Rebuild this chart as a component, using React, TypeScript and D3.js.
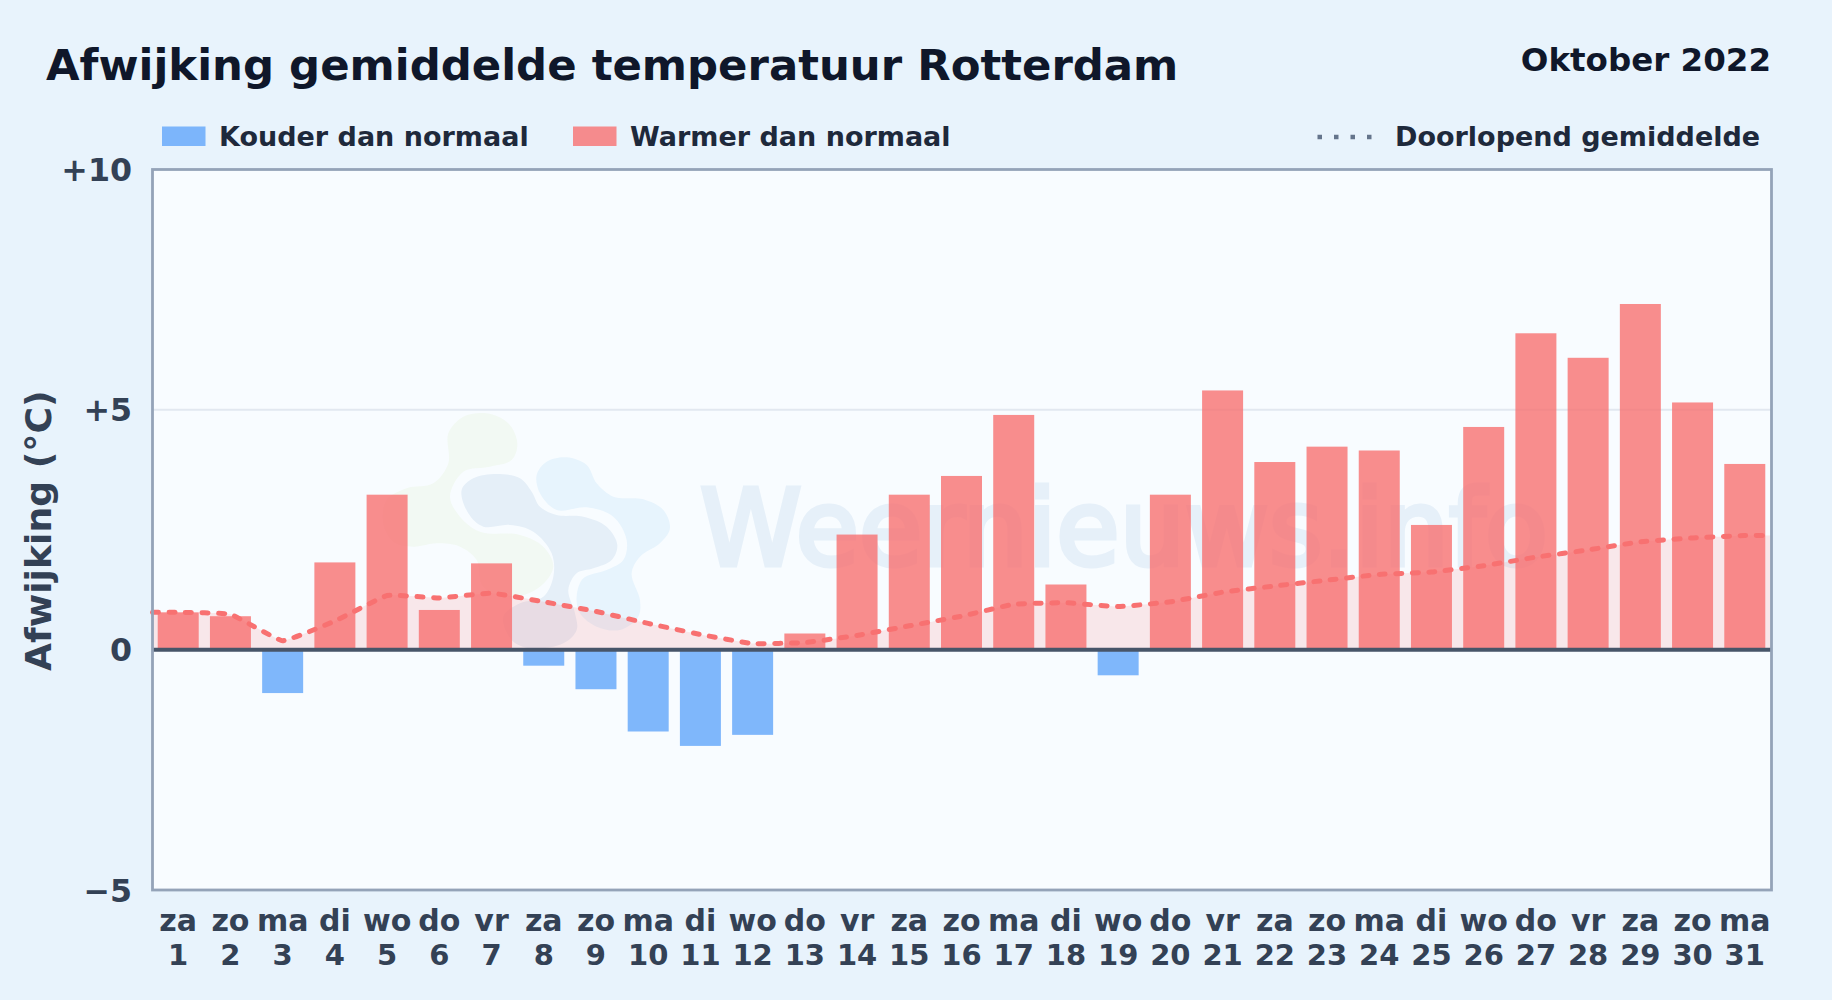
import * as d3 from 'd3'
import { useEffect, useRef } from 'react'

const WIDTH = 1832
const HEIGHT = 1000

const days = [1, 2, 3, 4, 5, 6, 7, 8, 9, 10, 11, 12, 13, 14, 15, 16, 17, 18, 19, 20, 21, 22, 23, 24, 25, 26, 27, 28, 29, 30, 31]
const weekdays = ['za', 'zo', 'ma', 'di', 'wo', 'do', 'vr', 'za', 'zo', 'ma', 'di', 'wo', 'do', 'vr', 'za', 'zo', 'ma', 'di', 'wo', 'do', 'vr', 'za', 'zo', 'ma', 'di', 'wo', 'do', 'vr', 'za', 'zo', 'ma']
const deviations = [0.78, 0.7, -0.9, 1.82, 3.23, 0.83, 1.8, -0.33, -0.82, -1.7, -2.0, -1.77, 0.34, 2.4, 3.23, 3.62, 4.89, 1.36, -0.53, 3.23, 5.4, 3.91, 4.23, 4.15, 2.6, 4.64, 6.59, 6.08, 7.2, 5.15, 3.87]
const runningMean = [0.78, 0.74, 0.19, 0.6, 1.13, 1.08, 1.18, 1.0, 0.8, 0.55, 0.32, 0.13, 0.15, 0.3, 0.5, 0.7, 0.95, 0.98, 0.9, 1.0, 1.2, 1.33, 1.45, 1.57, 1.62, 1.75, 1.93, 2.08, 2.25, 2.33, 2.38]
const yTicks = [-5, 0, 5, 10]
const yLabels = ['\u22125', '0', '+5', '+10']

// watermark logo outlines, in 3x zoomed units
const logoGreen = [[205, 100], [250, 50], [320, 40], [385, 70], [412, 130], [395, 180], [330, 200], [250, 215], [210, 290], [240, 350], [300, 395], [420, 405], [490, 440], [520, 500], [480, 560], [400, 590], [310, 560], [290, 480], [240, 440], [170, 430], [100, 440], [40, 425], [10, 370], [20, 300], [80, 265], [160, 250], [205, 190]]
const logoDark = [[245, 270], [280, 235], [350, 222], [420, 235], [455, 275], [480, 320], [530, 345], [610, 350], [680, 380], [712, 435], [695, 480], [640, 505], [590, 520], [565, 570], [585, 640], [590, 690], [550, 730], [450, 745], [395, 720], [370, 650], [420, 610], [490, 590], [520, 530], [515, 460], [460, 395], [390, 375], [310, 380], [265, 340]]
const logoLight = [[470, 225], [500, 185], [560, 172], [620, 195], [650, 250], [700, 290], [790, 298], [850, 330], [870, 385], [840, 430], [780, 470], [755, 520], [780, 600], [775, 650], [720, 690], [650, 680], [600, 640], [590, 590], [610, 535], [680, 510], [730, 480], [740, 420], [700, 350], [620, 322], [530, 330], [480, 280]]

const FONT = '"DejaVu Sans", sans-serif'

const drawChart = (node: SVGSVGElement) => {
    const margin = { top: 169.5, right: 60.5, bottom: 110, left: 152.5 }
    const innerRight = WIDTH - margin.right
    const innerBottom = HEIGHT - margin.bottom

    const svg = d3.select(node)
    svg.selectAll('*').remove()

    const x = d3.scaleBand<number>()
        .domain(days)
        .range([margin.left, innerRight - 1])
        .paddingInner(0.215)
        .paddingOuter(0.1)

    const y = d3.scaleLinear()
        .domain([-5, 10])
        .range([innerBottom, margin.top])

    svg.append('rect')
        .attr('width', WIDTH)
        .attr('height', HEIGHT)
        .attr('fill', '#e8f3fc')

    // Plot background
    svg.append('rect')
        .attr('x', margin.left)
        .attr('y', margin.top)
        .attr('width', innerRight - margin.left)
        .attr('height', innerBottom - margin.top)
        .attr('fill', '#f8fcff')

    // Watermark
    const blob = d3.line().curve(d3.curveCatmullRomClosed.alpha(0.5))
    const logo = svg.append('g').attr('transform', 'translate(380,400) scale(0.3333)')
    logo.append('path').attr('d', blob(logoGreen as [number, number][])).attr('fill', '#f2f9f3')
    logo.append('path').attr('d', blob(logoLight as [number, number][])).attr('fill', '#e7f4fd')
    logo.append('path').attr('d', blob(logoDark as [number, number][])).attr('fill', '#e5eff8')

    svg.append('text')
        .attr('x', 700)
        .attr('y', 565)
        .attr('font-family', FONT)
        .attr('font-size', 106)
        .attr('textLength', 848)
        .attr('lengthAdjust', 'spacingAndGlyphs')
        .attr('fill', '#e6f0f9')
        .attr('stroke', '#e6f0f9')
        .attr('stroke-width', 5)
        .text('Weernieuws.info')

    // Gridline at +5
    svg.append('line')
        .attr('x1', margin.left)
        .attr('x2', innerRight)
        .attr('y1', y(5))
        .attr('y2', y(5))
        .attr('stroke', '#e2e8f0')
        .attr('stroke-width', 2)

    // Running mean runs out flat to both plot edges
    const centers = days.map(d => x(d)! + x.bandwidth() / 2)
    const meanPoints: [number, number][] = [
        [margin.left, runningMean[0]],
        ...runningMean.map((v, i) => [centers[i], v] as [number, number]),
        [innerRight, runningMean[runningMean.length - 1]],
    ]

    const area = d3.area<[number, number]>()
        .curve(d3.curveCardinal.tension(0.7))
        .x(d => d[0])
        .y0(y(0))
        .y1(d => y(d[1]))

    svg.append('path')
        .attr('d', area(meanPoints))
        .attr('fill', 'rgba(248, 113, 113, 0.15)')

    // Bars
    svg.selectAll('rect.bar')
        .data(deviations)
        .enter()
        .append('rect')
        .attr('class', 'bar')
        .attr('x', (d, i) => x(days[i])!)
        .attr('y', d => y(Math.max(d, 0)))
        .attr('width', x.bandwidth())
        .attr('height', d => Math.abs(y(d) - y(0)))
        .attr('fill', d => d < 0 ? '#60a5fa' : '#f87171')
        .attr('fill-opacity', 0.8)

    const line = d3.line<[number, number]>()
        .curve(d3.curveCardinal.tension(0.7))
        .x(d => d[0])
        .y(d => y(d[1]))

    svg.append('path')
        .attr('d', line(meanPoints))
        .attr('fill', 'none')
        .attr('stroke', '#f87171')
        .attr('stroke-width', 5)
        .attr('stroke-linecap', 'round')
        .attr('stroke-dasharray', '6 10.5')

    // Zero line
    svg.append('line')
        .attr('x1', margin.left)
        .attr('x2', innerRight)
        .attr('y1', y(0))
        .attr('y2', y(0))
        .attr('stroke', '#475569')
        .attr('stroke-width', 4)

    // Frame
    svg.append('rect')
        .attr('x', margin.left)
        .attr('y', margin.top)
        .attr('width', innerRight - margin.left)
        .attr('height', innerBottom - margin.top)
        .attr('fill', 'none')
        .attr('stroke', '#94a3b8')
        .attr('stroke-width', 2.8)

    const label = (tx: number, ty: number, str: string, size: number, color: string, anchor = 'start') =>
        svg.append('text')
            .attr('x', tx)
            .attr('y', ty)
            .attr('font-family', FONT)
            .attr('font-weight', 'bold')
            .attr('font-size', size)
            .attr('fill', color)
            .attr('text-anchor', anchor)
            .text(str)

    // Titles
    label(46, 79.5, 'Afwijking gemiddelde temperatuur Rotterdam', 43.4, '#0f172a')
    label(1771, 70.5, 'Oktober 2022', 32.5, '#0f172a', 'end')

    // Legend
    const legendItems = [
        { color: '#60a5fa', x: 162, textX: 219, text: 'Kouder dan normaal' },
        { color: '#f87171', x: 573, textX: 630, text: 'Warmer dan normaal' },
    ]
    legendItems.forEach(item => {
        svg.append('rect')
            .attr('x', item.x)
            .attr('y', 126.5)
            .attr('width', 43.5)
            .attr('height', 19.5)
            .attr('fill', item.color)
            .attr('fill-opacity', 0.8)
        label(item.textX, 146, item.text, 27, '#1e293b')
    })
    svg.append('line')
        .attr('x1', 1317.5)
        .attr('x2', 1373)
        .attr('y1', 137)
        .attr('y2', 137)
        .attr('stroke', '#64748b')
        .attr('stroke-width', 4.5)
        .attr('stroke-dasharray', '4.5 12')
    label(1395, 146, 'Doorlopend gemiddelde', 27, '#1e293b')

    // Y axis
    yTicks.forEach((t, i) => {
        label(132, y(t) + 11.5, yLabels[i], 31.7, '#334155', 'end')
    })
    svg.append('text')
        .attr('transform', `translate(51,${(margin.top + innerBottom) / 2 + 1}) rotate(-90)`)
        .attr('font-family', FONT)
        .attr('font-weight', 'bold')
        .attr('font-size', 36.2)
        .attr('fill', '#334155')
        .attr('text-anchor', 'middle')
        .text('Afwijking (°C)')

    // X axis, two rows
    days.forEach((d, i) => {
        label(centers[i], 931, weekdays[i], 30, '#334155', 'middle')
        label(centers[i], 964.5, String(d), 29, '#334155', 'middle')
    })
}

const App = () => {
    const ref = useRef<SVGSVGElement>(null)

    useEffect(() => {
        if (ref.current) drawChart(ref.current)
    }, [])

    return (
        <svg
            ref={ref}
            width={WIDTH}
            height={HEIGHT}
            style={{ position: 'absolute', left: 0, top: 0, display: 'block' }}
        />
    )
}

export default App
